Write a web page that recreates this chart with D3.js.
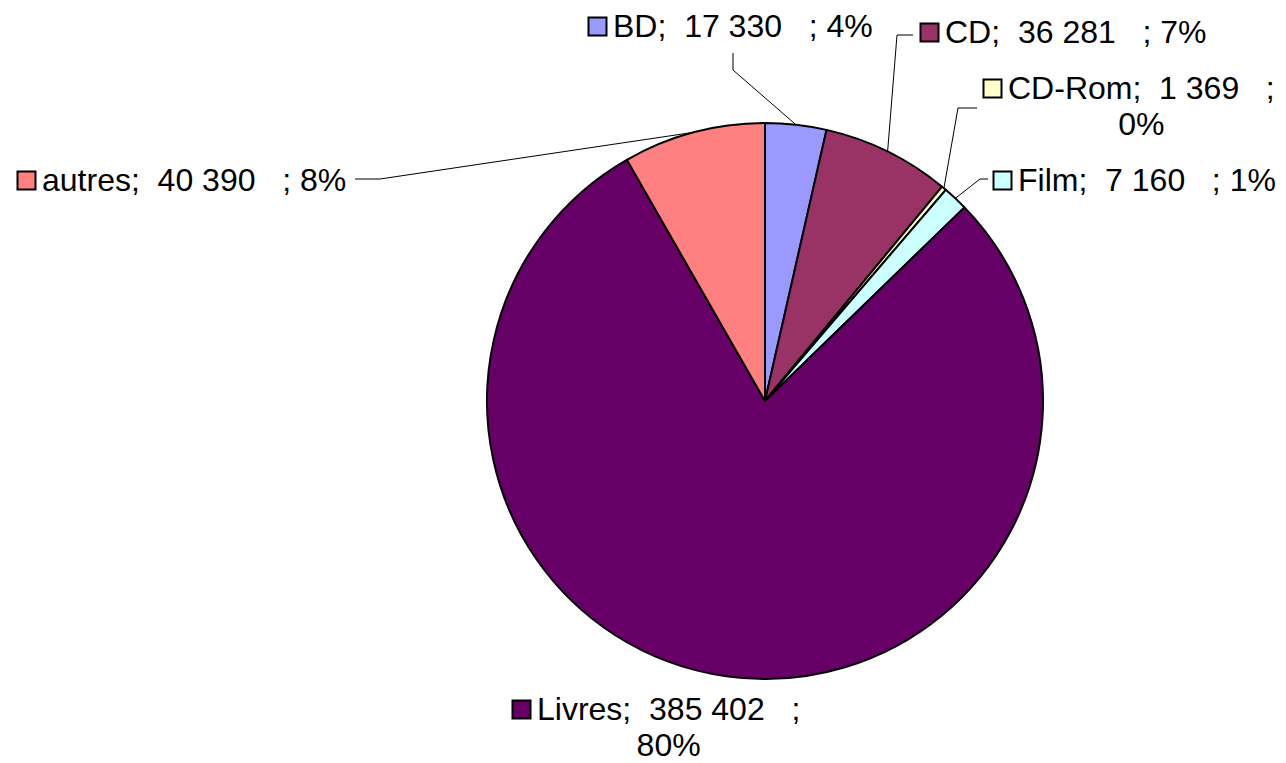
<!DOCTYPE html>
<html>
<head>
<meta charset="utf-8">
<script src="https://cdn.jsdelivr.net/npm/d3@7"></script>
<style>
  body { margin: 0; background: #fff; }
  svg { display: block; }
</style>
</head>
<body>
<svg></svg>
<script>
// donnees du graphique
var categories = ["BD", "CD", "CD-Rom", "Film", "Livres", "autres"];
var valeurs = [17330, 36281, 1369, 7160, 385402, 40390];
var pourcents = [4, 7, 0, 1, 80, 8];
var couleurs = ["#9999FF", "#993366", "#FFFFCC", "#CCFFFF", "#660066", "#FF8080"];

var width = 1286, height = 763;
var cx = 765, cy = 401, rayon = 278;

// position des etiquettes (coin du carre, ligne de base) et lignes de rappel
var etiquettes = [
  { x: 588, y: 37,  wrap: false, leader: [[733, 53], [733, 70]] },
  { x: 920, y: 43,  wrap: false, leader: [[913, 35], [897, 35]] },
  { x: 983, y: 99,  wrap: true,  leader: [[977, 108], [958, 108]] },
  { x: 993, y: 191, wrap: false, leader: [[988, 179], [980, 179]] },
  { x: 512, y: 720, wrap: true,  leader: null },
  { x: 17,  y: 191, wrap: false, leader: [[355, 179], [380, 179]] }
];

var fr = d3.formatLocale({ decimal: ",", thousands: " ", grouping: [3], currency: ["", " €"] });
var fmt = fr.format(",d");

var svg = d3.select("svg")
    .attr("width", width)
    .attr("height", height)
    .attr("font-family", "Arial, 'Liberation Sans', sans-serif")
    .attr("font-size", 32);

var pie = d3.pie().sort(null).value(function(d) { return d; });
var arcs = pie(valeurs);

var arc = d3.arc().innerRadius(0).outerRadius(rayon);
var arcBord = d3.arc().innerRadius(rayon).outerRadius(rayon);

var g = svg.append("g").attr("transform", "translate(" + cx + "," + cy + ")");

g.selectAll("path")
  .data(arcs)
  .enter().append("path")
  .attr("d", arc)
  .attr("fill", function(d, i) { return couleurs[i]; })
  .attr("stroke", "#000")
  .attr("stroke-width", 2)
  .attr("stroke-linejoin", "round");

// lignes de rappel
arcs.forEach(function(d, i) {
  var e = etiquettes[i];
  if (!e.leader) return;
  var c = arcBord.centroid(d);
  var pts = e.leader.concat([[c[0] + cx, c[1] + cy]]);
  svg.append("path")
    .attr("d", d3.line()(pts))
    .attr("fill", "none")
    .attr("stroke", "#000")
    .attr("stroke-width", 1);
});

// etiquettes
etiquettes.forEach(function(e, i) {
  var lab = svg.append("g");
  lab.append("rect")
    .attr("x", e.x + 0.5)
    .attr("y", e.y - 19.5)
    .attr("width", 18)
    .attr("height", 18)
    .attr("fill", couleurs[i])
    .attr("stroke", "#000")
    .attr("stroke-width", 2);

  var ligne1 = categories[i] + ";  " + fmt(valeurs[i]) + "   ;";
  var ligne2 = pourcents[i] + "%";

  var t = lab.append("text")
    .attr("x", e.x + 25)
    .attr("y", e.y)
    .style("white-space", "pre")
    .attr("fill", "#000")
    .text(e.wrap ? ligne1 : ligne1 + " " + ligne2);

  if (e.wrap) {
    var w = t.node().getComputedTextLength();
    lab.append("text")
      .attr("x", e.x + 25 + w / 2)
      .attr("y", e.y + 36)
      .attr("text-anchor", "middle")
      .attr("fill", "#000")
      .text(ligne2);
  }
});
</script>
</body>
</html>
